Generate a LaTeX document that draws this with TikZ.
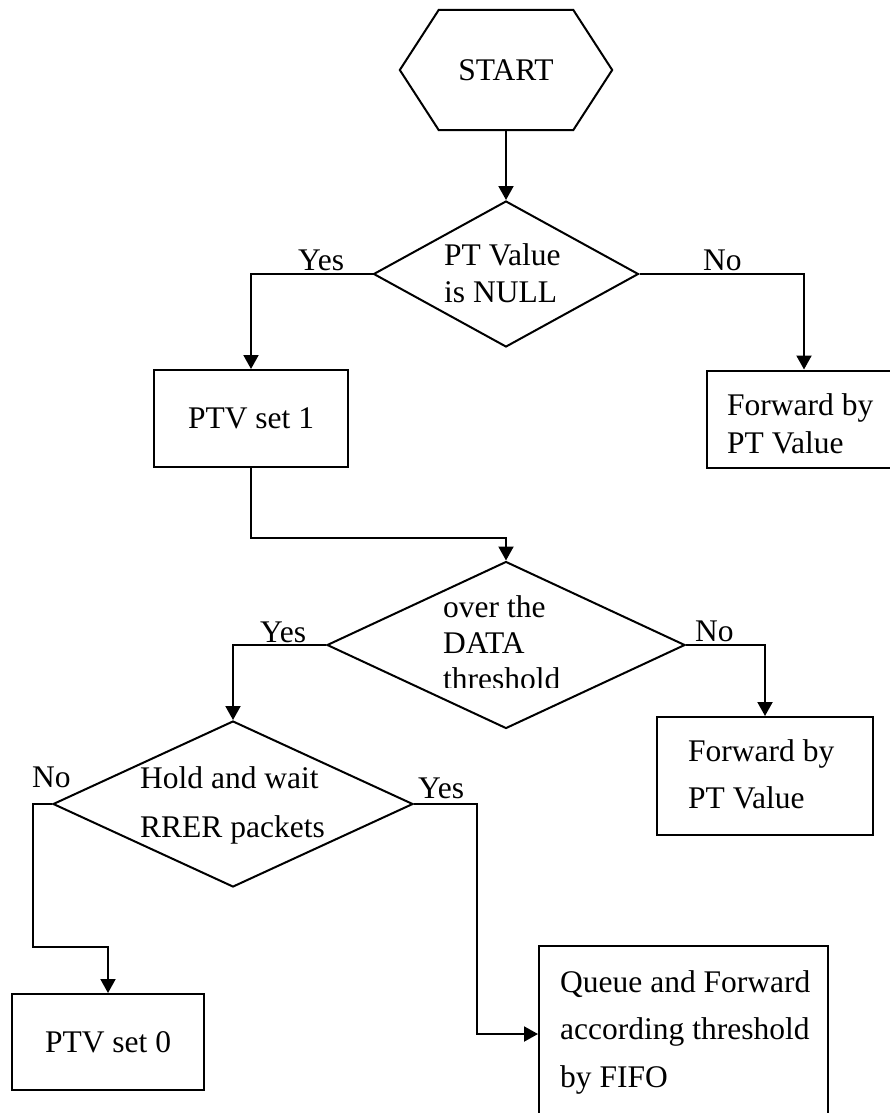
\documentclass[tikz,border=0pt]{standalone}
\usepackage{fontspec}
\setmainfont{Liberation Serif}
\usetikzlibrary{shapes.geometric, arrows.meta, positioning}

\begin{document}
\begin{tikzpicture}[
  x=1pt, y=-1pt,
  every node/.style={font=\fontsize{31.5}{47}\selectfont},
  box/.style={draw, line width=2pt, minimum width=194pt, minimum height=97pt,
              inner sep=0pt},
  decision/.style={draw, diamond, line width=2pt, inner sep=0pt},
  conn/.style={line width=2pt},
  arrow/.style={-{Triangle[length=14pt,width=15pt]}, line width=2pt},
  answer/.style={anchor=base west, inner sep=0pt},
  txt/.style={anchor=base west, inner sep=0pt, align=left},
]
\useasboundingbox (0,0) rectangle (890,1113);

% start
\node[minimum width=212pt, minimum height=120pt, inner sep=0pt] (start) at (506,70) {START};
\draw[conn] (start.west) -- ([xshift=39pt]start.north west)
  -- ([xshift=-39pt]start.north east) -- (start.east)
  -- ([xshift=-39pt]start.south east) -- ([xshift=39pt]start.south west) -- cycle;

% first test
\node[decision, minimum width=265pt, minimum height=146pt] (isnull) at (506,274) {};
\node[txt, font=\fontsize{31.5}{37}\selectfont] (isnulltxt) at (444,302) {PT Value\\is NULL};

\node[box] (ptvone) at (251,418.5) {PTV set 1};
\node[box] (fwdtop) at (804,419) {};
\node[txt, font=\fontsize{31.5}{38}\selectfont] (fwdtoptxt) at (727,453) {Forward by\\PT Value};

% second test
\node[decision, minimum width=358pt, minimum height=167pt] (overdata) at (506,645) {};
\begin{scope}
  \clip (420,580) rectangle (700,687);
  \node[txt, font=\fontsize{31.5}{36}\selectfont] (overdatatxt) at (443,689) {over the\\DATA\\threshold};
\end{scope}

\node[box, minimum width=216pt, minimum height=118pt] (fwdmid) at (765,776) {};
\node[txt] (fwdmidtxt) at (688,808) {Forward by\\PT Value};

% third test
\node[decision, minimum width=360pt, minimum height=166pt] (holdwait) at (233,804) {};
\node[txt, font=\fontsize{31.5}{49}\selectfont] (holdwaittxt) at (140,837) {Hold and wait\\RRER packets};

\node[box, minimum width=192pt, minimum height=96pt] (ptvzero) at (108,1042) {PTV set 0};
\node[box, minimum width=289pt, minimum height=176pt] (queue) at (683.5,1034) {};
\node[txt, font=\fontsize{31.5}{47.5}\selectfont] (queuetxt) at (560,1087)
  {Queue and Forward\\according threshold\\by FIFO};

% answers
\node[answer] (yesone) at (298,270) {Yes};
\node[answer] (noone) at (703,270) {No};
\node[answer] (yestwo) at (260,642) {Yes};
\node[answer] (notwo) at (695,641) {No};
\node[answer] (nothree) at (32,787) {No};
\node[answer] (yesthree) at (418,798) {Yes};

\draw[arrow] (start.south) -- (isnull.north);
\draw[arrow] (isnull.west) -| (ptvone.north);
\draw[arrow] (isnull.east) -| (fwdtop.north);
\draw[arrow] (ptvone.south) -- ++(0,70) -| (overdata.north);
\draw[arrow] (overdata.west) -| (holdwait.north);
\draw[arrow] (overdata.east) -| (fwdmid.north);
\draw[arrow] (holdwait.west) -- ++(-19,0) -- ++(0,143) -| (ptvzero.north);
\draw[arrow] (holdwait.east) -- ++(63,0) |- (queue.west);

\end{tikzpicture}
\end{document}
